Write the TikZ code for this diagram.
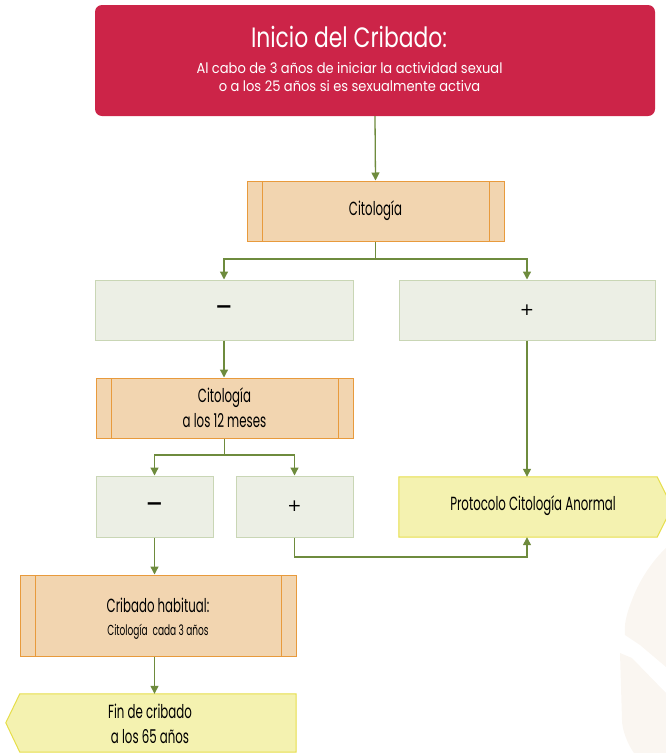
\documentclass[tikz,border=0pt]{standalone}
\usepackage{fontspec}
\setmainfont{Poppins}
\newfontfamily\titlefont{Poppins}[FakeStretch=0.78]
\newfontfamily\subfont{Poppins}[FakeStretch=0.9]
\newfontfamily\condfont{Poppins}[FakeStretch=0.62]
\newfontfamily\symfont{DejaVu Sans}
\usetikzlibrary{arrows.meta}
\definecolor{redF}{HTML}{CC2448}
\definecolor{orangeF}{HTML}{F2D5B0}
\definecolor{orangeB}{HTML}{E89A3C}
\definecolor{greenF}{HTML}{ECEFE5}
\definecolor{greenB}{HTML}{C9D6B5}
\definecolor{yellowF}{HTML}{F4F2B0}
\definecolor{yellowB}{HTML}{E6DE4A}
\definecolor{arrowC}{HTML}{6E8B3D}
\definecolor{blobC}{HTML}{FAF6F1}
\tikzset{
  ln/.style={draw=arrowC, line width=1.3pt},
  arr/.style={ln, -{Triangle[width=8pt,length=8pt]}},
  orangebox/.style={draw=orangeB, fill=orangeF, line width=1pt, inner sep=0pt,
    align=center, font=\condfont\fontsize{19}{25}\selectfont,
    path picture={\draw[orangeB,line width=1pt]
      ([xshift=15pt]path picture bounding box.north west) -- ([xshift=15pt]path picture bounding box.south west)
      ([xshift=-15pt]path picture bounding box.north east) -- ([xshift=-15pt]path picture bounding box.south east);}},
  greenbox/.style={draw=greenB, fill=greenF, line width=1pt, inner sep=0pt},
  ghost/.style={inner sep=0pt, draw=none},
  ytext/.style={align=center, font=\condfont\fontsize{19}{25}\selectfont, inner sep=0pt},
}
\newcommand{\minussign}{\raisebox{-3pt}{\symfont\bfseries\fontsize{21}{21}\selectfont −}}
\newcommand{\plussign}{\raisebox{-4pt}{\symfont\fontsize{17}{17}\selectfont +}}
\begin{document}
\begin{tikzpicture}[x=1pt,y=-1pt]
\useasboundingbox (0,0) rectangle (666,753);
\clip (0,0) rectangle (666,753);
% background decoration
\fill[blobC] (666,548) .. controls (655,558) and (640,578) .. (632,600)
  .. controls (626,615) and (624,625) .. (625,635)
  -- (640,645) -- (666,667) -- cycle;
\fill[blobC] (620,653) -- (632,658) -- (666,693) -- (666,753) -- (634,753)
  .. controls (628,745) and (622,730) .. (622,720) -- cycle;

% top box
\node[fill=redF, rounded corners=7pt, minimum width=560pt, minimum height=111pt, inner sep=0pt] (top) at (375,60.5) {};
\node[text=white, font=\titlefont\fontsize{28}{30}\selectfont, inner sep=0pt] (ttl) at (349,37) {Inicio del Cribado:};
\node[text=white, font=\subfont\fontsize{14.5}{18}\selectfont, align=center, inner sep=0pt] (sub) at (349.5,77)
  {Al cabo de 3 años de iniciar la actividad sexual\\o a los 25 años si es sexualmente activa};

% citologia
\node[orangebox, minimum width=257pt, minimum height=60pt] (cit) at (375.5,211) {Citología};
\node[greenbox, minimum width=258pt, minimum height=60pt] (neg1) at (224,310) {\minussign};
\node[greenbox, minimum width=256pt, minimum height=60pt] (pos1) at (527,310) {\plussign};
\node[orangebox, minimum width=257pt, minimum height=60pt] (cit12) at (224.5,408) {Citología\\a los 12 meses};
\node[greenbox, minimum width=117pt, minimum height=61pt] (neg2) at (154.5,506.5) {\minussign};
\node[greenbox, minimum width=117pt, minimum height=61pt] (pos2) at (294.5,506.5) {\plussign};

% protocolo
\node[ghost, minimum width=258pt, minimum height=60pt] (proto) at (528,507) {};
\filldraw[fill=yellowF, draw=yellowB, line width=1pt] (proto.north west) -- (proto.north east) -- ++(15,30) -- (proto.south east) -- (proto.south west) -- cycle;
\node[ytext] (protot) at (533,506) {Protocolo Citología Anormal};

% cribado habitual
\node[orangebox, minimum width=276pt, minimum height=81pt] (crib) at (158,615.5) {};
\node[ytext] (cribt1) at (158,605) {Cribado habitual:};
\node[ytext, font=\condfont\fontsize{14.5}{16}\selectfont] (cribt2) at (158,632) {Citología\ \ cada 3 años};

% fin
\node[ghost, minimum width=276pt, minimum height=58pt] (fin) at (158,723) {};
\filldraw[fill=yellowF, draw=yellowB, line width=1pt] (fin.north east) -- (fin.north west) -- ++(-14,29) -- (fin.south west) -- (fin.south east) -- cycle;
\node[ytext] (fint) at (150,724) {Fin de cribado\\a los 65 años};

% connectors
\draw[arr] (top.south) -- (cit.north);
\coordinate (j1) at (375.5,259);
\draw[ln] (cit.south) -- (j1);
\draw[arr] (j1) -| (neg1.north);
\draw[arr] (j1) -| (pos1.north);
\draw[arr] (neg1.south) -- (neg1.south |- cit12.north);
\coordinate (j2) at (224.5,455);
\draw[ln] (cit12.south) -- (j2);
\draw[arr] (j2) -| (neg2.north);
\draw[arr] (j2) -| (pos2.north);
\draw[arr] (pos1.south) -- (pos1.south |- proto.north);
\coordinate (j3) at (527,557);
\draw[arr] (pos2.south) |- (j3) -- (j3 |- proto.south);
\draw[arr] (neg2.south) -- (neg2.south |- crib.north);
\draw[arr] (neg2.south |- crib.south) -- (neg2.south |- fin.north);
\end{tikzpicture}
\end{document}
